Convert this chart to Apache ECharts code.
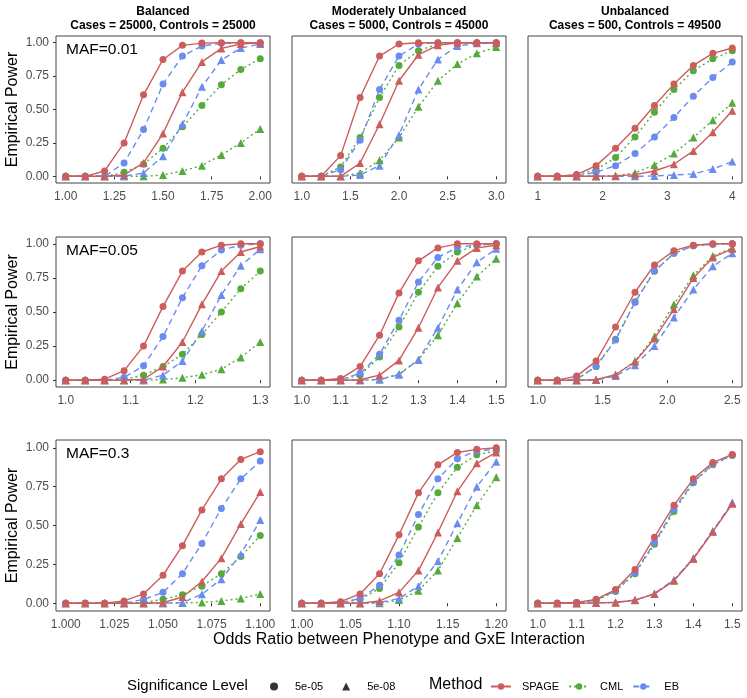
<!DOCTYPE html>
<html><head><meta charset="utf-8">
<script src="https://cdn.jsdelivr.net/npm/echarts@6/dist/echarts.min.js"></script>
<style>html,body{margin:0;padding:0;background:#fff}#c{width:747px;height:698px}</style>
</head><body><div id="c"></div>
<script>
// ---------- Data ----------
const colTitles = ['Balanced\nCases = 25000, Controls = 25000', 'Moderately Unbalanced\nCases = 5000, Controls = 45000', 'Unbalanced\nCases = 500, Controls = 49500'];
const mafLabels = ['MAF=0.01', 'MAF=0.05', 'MAF=0.3'];
const methods = ['SPAGE', 'CML', 'EB'];
const sigLevels = ['5e-05', '5e-08'];
const yTicks = ['0.00', '0.25', '0.50', '0.75', '1.00'];

// Row 1: MAF = 0.01
const p11_x = [1.0, 1.1, 1.2, 1.3, 1.4, 1.5, 1.6, 1.7, 1.8, 1.9, 2.0];
const p11_ticks = ['1.00', '1.25', '1.50', '1.75', '2.00'];
const p11_spage_e5 = [0, 0, 0.04, 0.25, 0.61, 0.874, 0.98, 0.997, 1, 1, 1];
const p11_cml_e5 = [0, 0, 0, 0.03, 0.09, 0.21, 0.37, 0.53, 0.685, 0.80, 0.88];
const p11_eb_e5 = [0, 0, 0, 0.10, 0.35, 0.69, 0.90, 0.975, 0.995, 1, 1];
const p11_spage_e8 = [0, 0, 0, 0.01, 0.10, 0.32, 0.63, 0.856, 0.957, 0.99, 1];
const p11_cml_e8 = [0, 0, 0, 0, 0, 0.01, 0.04, 0.08, 0.16, 0.25, 0.355];
const p11_eb_e8 = [0, 0, 0, 0, 0.025, 0.15, 0.39, 0.67, 0.87, 0.96, 0.99];

const p12_x = [1.0, 1.2, 1.4, 1.6, 1.8, 2.0, 2.2, 2.4, 2.6, 2.8, 3.0];
const p12_ticks = ['1.0', '1.5', '2.0', '2.5', '3.0'];
const p12_spage_e5 = [0, 0, 0.155, 0.59, 0.90, 0.99, 1, 1, 1, 1, 1];
const p12_cml_e5 = [0, 0, 0.07, 0.29, 0.59, 0.83, 0.94, 0.99, 1, 1, 1];
const p12_eb_e5 = [0, 0, 0.05, 0.27, 0.65, 0.90, 0.99, 1, 1, 1, 1];
const p12_spage_e8 = [0, 0, 0, 0.10, 0.39, 0.715, 0.91, 0.98, 1, 1, 1];
const p12_cml_e8 = [0, 0, 0, 0.025, 0.12, 0.29, 0.52, 0.715, 0.84, 0.92, 0.967];
const p12_eb_e8 = [0, 0, 0, 0.01, 0.08, 0.31, 0.65, 0.875, 0.975, 0.995, 1];

const p13_x = [1.0, 1.3, 1.6, 1.9, 2.2, 2.5, 2.8, 3.1, 3.4, 3.7, 4.0];
const p13_ticks = ['1', '2', '3', '4'];
const p13_spage_e5 = [0, 0, 0.013, 0.08, 0.21, 0.36, 0.53, 0.69, 0.83, 0.92, 0.96];
const p13_cml_e5 = [0, 0, 0.01, 0.05, 0.14, 0.295, 0.48, 0.65, 0.79, 0.88, 0.94];
const p13_eb_e5 = [0, 0, 0.003, 0.03, 0.08, 0.17, 0.295, 0.44, 0.60, 0.74, 0.855];
const p13_spage_e8 = [0, 0, 0, 0, 0.003, 0.013, 0.04, 0.09, 0.19, 0.33, 0.49];
const p13_cml_e8 = [0, 0, 0, 0, 0.005, 0.025, 0.085, 0.17, 0.29, 0.42, 0.55];
const p13_eb_e8 = [0, 0, 0, 0, 0, 0, 0.002, 0.01, 0.018, 0.055, 0.11];

// Row 2: MAF = 0.05
const p21_x = [1.00, 1.03, 1.06, 1.09, 1.12, 1.15, 1.18, 1.21, 1.24, 1.27, 1.30];
const p21_ticks = ['1.0', '1.1', '1.2', '1.3'];
const p21_spage_e5 = [0, 0, 0.007, 0.07, 0.25, 0.54, 0.80, 0.94, 0.99, 1, 1];
const p21_cml_e5 = [0, 0, 0, 0.005, 0.037, 0.10, 0.19, 0.335, 0.50, 0.67, 0.80];
const p21_eb_e5 = [0, 0, 0, 0.02, 0.105, 0.32, 0.605, 0.84, 0.955, 0.99, 1];
const p21_spage_e8 = [0, 0, 0, 0, 0.007, 0.10, 0.28, 0.556, 0.80, 0.94, 0.98];
const p21_cml_e8 = [0, 0, 0, 0, 0, 0.005, 0.017, 0.04, 0.08, 0.167, 0.28];
const p21_eb_e8 = [0, 0, 0, 0, 0, 0.037, 0.14, 0.36, 0.625, 0.84, 0.96];

const p22_x = [1.00, 1.05, 1.10, 1.15, 1.20, 1.25, 1.30, 1.35, 1.40, 1.45, 1.50];
const p22_ticks = ['1.0', '1.1', '1.2', '1.3', '1.4', '1.5'];
const p22_spage_e5 = [0, 0, 0.012, 0.10, 0.33, 0.64, 0.875, 0.97, 1, 1, 1];
const p22_cml_e5 = [0, 0, 0.005, 0.037, 0.17, 0.39, 0.645, 0.835, 0.94, 0.99, 1];
const p22_eb_e5 = [0, 0, 0.005, 0.05, 0.19, 0.44, 0.72, 0.90, 0.975, 0.99, 1];
const p22_spage_e8 = [0, 0, 0, 0.003, 0.037, 0.145, 0.385, 0.68, 0.875, 0.97, 0.99];
const p22_cml_e8 = [0, 0, 0, 0, 0.005, 0.045, 0.15, 0.33, 0.565, 0.76, 0.89];
const p22_eb_e8 = [0, 0, 0, 0, 0.005, 0.04, 0.15, 0.385, 0.665, 0.865, 0.963];

const p23_x = [1.0, 1.15, 1.3, 1.45, 1.6, 1.75, 1.9, 2.05, 2.2, 2.35, 2.5];
const p23_ticks = ['1.0', '1.5', '2.0', '2.5'];
const p23_spage_e5 = [0, 0, 0.03, 0.14, 0.39, 0.645, 0.845, 0.95, 0.99, 1, 1];
const p23_cml_e5 = [0, 0, 0.007, 0.10, 0.30, 0.575, 0.80, 0.93, 0.985, 0.997, 1];
const p23_eb_e5 = [0, 0, 0.007, 0.10, 0.295, 0.57, 0.80, 0.93, 0.985, 0.997, 1];
const p23_spage_e8 = [0, 0, 0, 0.003, 0.04, 0.135, 0.305, 0.52, 0.75, 0.90, 0.963];
const p23_cml_e8 = [0, 0, 0, 0.003, 0.04, 0.14, 0.32, 0.556, 0.77, 0.91, 0.97];
const p23_eb_e8 = [0, 0, 0, 0.002, 0.03, 0.11, 0.25, 0.46, 0.665, 0.835, 0.93];

// Row 3: MAF = 0.3
const p31_x = [1.00, 1.01, 1.02, 1.03, 1.04, 1.05, 1.06, 1.07, 1.08, 1.09, 1.10];
const p31_ticks = ['1.000', '1.025', '1.050', '1.075', '1.100'];
const p31_spage_e5 = [0, 0, 0, 0.015, 0.06, 0.18, 0.37, 0.60, 0.80, 0.925, 0.975];
const p31_cml_e5 = [0, 0, 0, 0, 0.005, 0.025, 0.054, 0.11, 0.19, 0.30, 0.435];
const p31_eb_e5 = [0, 0, 0, 0.002, 0.024, 0.07, 0.19, 0.385, 0.61, 0.80, 0.915];
const p31_spage_e8 = [0, 0, 0, 0, 0, 0.003, 0.04, 0.14, 0.29, 0.51, 0.715];
const p31_cml_e8 = [0, 0, 0, 0, 0, 0, 0.002, 0.005, 0.015, 0.03, 0.06];
const p31_eb_e8 = [0, 0, 0, 0, 0, 0, 0.004, 0.058, 0.155, 0.315, 0.535];

const p32_x = [1.00, 1.02, 1.04, 1.06, 1.08, 1.10, 1.12, 1.14, 1.16, 1.18, 1.20];
const p32_ticks = ['1.00', '1.05', '1.10', '1.15', '1.20'];
const p32_spage_e5 = [0, 0, 0.01, 0.06, 0.19, 0.44, 0.71, 0.89, 0.97, 0.99, 1];
const p32_cml_e5 = [0, 0, 0, 0.025, 0.095, 0.26, 0.49, 0.71, 0.875, 0.955, 0.98];
const p32_eb_e5 = [0, 0, 0.005, 0.03, 0.115, 0.31, 0.57, 0.80, 0.93, 0.98, 0.99];
const p32_spage_e8 = [0, 0, 0, 0, 0.015, 0.07, 0.21, 0.455, 0.72, 0.90, 0.97];
const p32_cml_e8 = [0, 0, 0, 0, 0, 0.02, 0.08, 0.21, 0.42, 0.63, 0.81];
const p32_eb_e8 = [0, 0, 0, 0, 0.005, 0.03, 0.11, 0.27, 0.515, 0.75, 0.91];

const p33_x = [1.00, 1.05, 1.10, 1.15, 1.20, 1.25, 1.30, 1.35, 1.40, 1.45, 1.50];
const p33_ticks = ['1.0', '1.1', '1.2', '1.3', '1.4', '1.5'];
const p33_spage_e5 = [0, 0, 0.005, 0.025, 0.088, 0.217, 0.425, 0.63, 0.80, 0.905, 0.957];
const p33_cml_e5 = [0, 0, 0.004, 0.018, 0.076, 0.19, 0.38, 0.59, 0.775, 0.89, 0.95];
const p33_eb_e5 = [0, 0, 0.004, 0.02, 0.08, 0.198, 0.39, 0.605, 0.78, 0.895, 0.953];
const p33_spage_e8 = [0, 0, 0, 0.002, 0.005, 0.02, 0.06, 0.145, 0.286, 0.46, 0.64];
const p33_cml_e8 = [0, 0, 0, 0.002, 0.005, 0.019, 0.06, 0.148, 0.288, 0.462, 0.644];
const p33_eb_e8 = [0, 0, 0, 0.002, 0.006, 0.02, 0.062, 0.15, 0.29, 0.465, 0.648];

// ---------- Assemble ----------
const panels = [
  {x: p11_x, ticks: p11_ticks, SPAGE: [p11_spage_e5, p11_spage_e8], CML: [p11_cml_e5, p11_cml_e8], EB: [p11_eb_e5, p11_eb_e8]},
  {x: p12_x, ticks: p12_ticks, SPAGE: [p12_spage_e5, p12_spage_e8], CML: [p12_cml_e5, p12_cml_e8], EB: [p12_eb_e5, p12_eb_e8]},
  {x: p13_x, ticks: p13_ticks, SPAGE: [p13_spage_e5, p13_spage_e8], CML: [p13_cml_e5, p13_cml_e8], EB: [p13_eb_e5, p13_eb_e8]},
  {x: p21_x, ticks: p21_ticks, SPAGE: [p21_spage_e5, p21_spage_e8], CML: [p21_cml_e5, p21_cml_e8], EB: [p21_eb_e5, p21_eb_e8]},
  {x: p22_x, ticks: p22_ticks, SPAGE: [p22_spage_e5, p22_spage_e8], CML: [p22_cml_e5, p22_cml_e8], EB: [p22_eb_e5, p22_eb_e8]},
  {x: p23_x, ticks: p23_ticks, SPAGE: [p23_spage_e5, p23_spage_e8], CML: [p23_cml_e5, p23_cml_e8], EB: [p23_eb_e5, p23_eb_e8]},
  {x: p31_x, ticks: p31_ticks, SPAGE: [p31_spage_e5, p31_spage_e8], CML: [p31_cml_e5, p31_cml_e8], EB: [p31_eb_e5, p31_eb_e8]},
  {x: p32_x, ticks: p32_ticks, SPAGE: [p32_spage_e5, p32_spage_e8], CML: [p32_cml_e5, p32_cml_e8], EB: [p32_eb_e5, p32_eb_e8]},
  {x: p33_x, ticks: p33_ticks, SPAGE: [p33_spage_e5, p33_spage_e8], CML: [p33_cml_e5, p33_cml_e8], EB: [p33_eb_e5, p33_eb_e8]}
];

const FONT = "'Liberation Sans', Arial, sans-serif";
const colors = {SPAGE: '#CD5C5C', CML: '#55AA3C', EB: '#6A8CF0'};
const dash = {SPAGE: 'solid', CML: [2, 3], EB: [6, 4]};
const symbols = ['circle', 'triangle'];
const symSize = [7, 8];

const colLeft = [56, 292, 528], colW = 214;
const rowTop = [36, 237, 440], rowH = [147, 150, 171];

const grids = [], xAxes = [], yAxes = [], series = [], graphics = [];

panels.forEach((p, i) => {
  const r = Math.floor(i / 3), c = i % 3;
  grids.push({left: colLeft[c], top: rowTop[r], width: colW, height: rowH[r],
    show: true, borderColor: '#444', borderWidth: 1, backgroundColor: '#fff'});
  const xmin = p.x[0], xmax = p.x[p.x.length - 1], span = xmax - xmin;
  const tv = p.ticks.map(Number);
  xAxes.push({
    type: 'value', gridIndex: i, min: xmin - 0.05 * span, max: xmax + 0.05 * span,
    axisLine: {show: false}, splitLine: {show: false},
    axisTick: {show: true, customValues: tv, length: 3, lineStyle: {color: '#333'}},
    axisLabel: {show: true, customValues: tv, margin: 8, color: '#4d4d4d', fontSize: 12, fontFamily: FONT,
      formatter: v => { const k = tv.findIndex(t => Math.abs(t - v) < 1e-9); return k >= 0 ? p.ticks[k] : ''; }},
    name: (i === 7) ? 'Odds Ratio between Phenotype and GxE Interaction' : '',
    nameLocation: 'middle', nameGap: 17,
    nameTextStyle: {fontSize: 16, color: '#000', fontFamily: FONT}
  });
  const yv = yTicks.map(Number);
  yAxes.push({
    type: 'value', gridIndex: i, min: -0.05, max: 1.05,
    axisLine: {show: false}, splitLine: {show: false},
    axisTick: {show: c === 0, customValues: yv, length: 3, lineStyle: {color: '#333'}},
    axisLabel: {show: c === 0, customValues: yv, margin: 7, color: '#4d4d4d', fontSize: 12, fontFamily: FONT,
      formatter: v => { const k = yv.findIndex(t => Math.abs(t - v) < 1e-9); return k >= 0 ? yTicks[k] : ''; }},
    name: c === 0 ? 'Empirical Power' : '', nameLocation: 'middle', nameGap: 35,
    nameTextStyle: {fontSize: 16, color: '#000', fontFamily: FONT}
  });
  ['CML', 'EB', 'SPAGE'].forEach(m => {
    [0, 1].forEach(s => {
      series.push({
        type: 'line', name: m, xAxisIndex: i, yAxisIndex: i,
        data: p.x.map((xv, k) => [xv, p[m][s][k]]),
        symbol: symbols[s], symbolSize: symSize[s], showSymbol: true,
        itemStyle: {color: colors[m]},
        lineStyle: {color: colors[m], width: 1.4, type: dash[m]},
        emphasis: {disabled: true}, silent: true, z: 2
      });
    });
  });
  if (c === 0) {
    graphics.push({type: 'text', left: colLeft[0] + 10, top: rowTop[r] + 6,
      style: {text: mafLabels[r], fontSize: 15.5, fill: '#000', fontFamily: FONT}});
  }
});

colTitles.forEach((t, c) => {
  graphics.push({type: 'text', x: colLeft[c] + colW / 2, y: 5,
    style: {text: t, fontSize: 12, fontWeight: 'bold', fill: '#000', fontFamily: FONT,
      textAlign: 'center', textVerticalAlign: 'top', lineHeight: 14}});
});

graphics.push({type: 'text', left: 127, top: 678, style: {text: 'Significance Level', fontSize: 15, fill: '#000', fontFamily: FONT}});
graphics.push({type: 'text', left: 429, top: 677, style: {text: 'Method', fontSize: 16, fill: '#000', fontFamily: FONT}});

// dummy series for significance legend
sigLevels.forEach((lv, s) => {
  series.push({type: 'scatter', name: lv, xAxisIndex: 0, yAxisIndex: 0, data: [],
    symbol: symbols[s], itemStyle: {color: '#000'}});
});

const option = {
  animation: false,
  backgroundColor: '#fff',
  grid: grids, xAxis: xAxes, yAxis: yAxes, series: series, graphic: graphics,
  legend: [
    {data: [{name: '5e-05', icon: 'circle'}, {name: '5e-08', icon: 'triangle'}],
     left: 265, top: 676, itemWidth: 8, itemHeight: 8, itemGap: 19, selectedMode: false,
     formatter: '{a|{name}}',
     textStyle: {fontSize: 11, color: '#000', fontFamily: FONT, rich: {a: {fontSize: 11, fontFamily: FONT, color: '#000', padding: [0, 0, 0, 12]}}}},
    {data: methods, left: 485, top: 676, itemWidth: 20, itemHeight: 8, itemGap: 9, selectedMode: false,
     formatter: '{a|{name}}',
     textStyle: {fontSize: 11, color: '#000', fontFamily: FONT, rich: {a: {fontSize: 11, fontFamily: FONT, color: '#000', padding: [0, 0, 0, 6]}}}}
  ]
};
const chart = echarts.init(document.getElementById('c'), null, {renderer: 'canvas'});
chart.setOption(option);
</script>
</body></html>
